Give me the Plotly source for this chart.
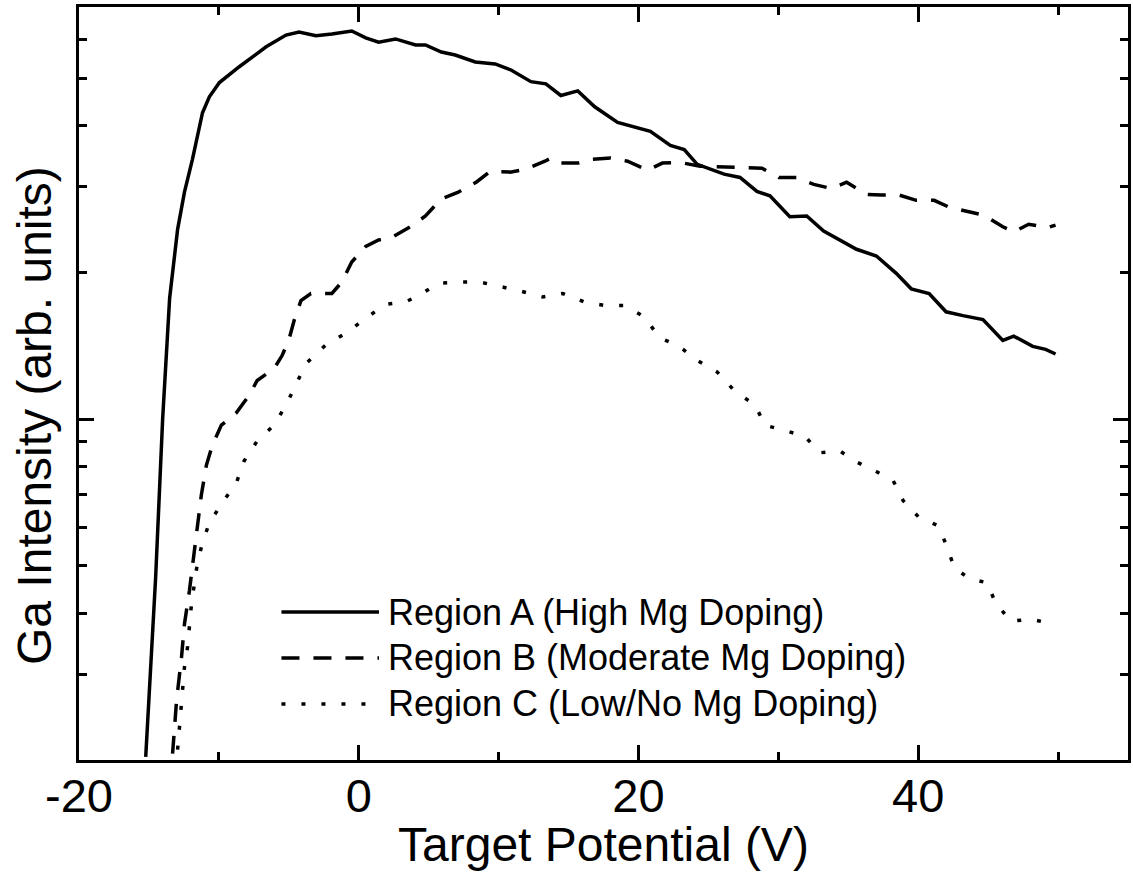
import math
import plotly.graph_objects as go

# ---------------- data ----------------
region_a_x = [-15.23, -14.52, -14.02, -13.52, -12.95, -12.46, -11.89, -11.17, -10.68, -9.96,
              -8.54, -6.62, -5.20, -4.27, -3.06, -1.92, -0.50, 0.50, 1.42, 2.63,
              4.06, 4.77, 5.91, 6.90, 8.33, 9.75, 10.89, 12.31, 13.38, 14.45,
              15.66, 16.87, 18.51, 20.85, 22.28, 23.27, 24.20, 26.12, 27.26, 28.47,
              29.40, 30.82, 32.03, 33.24, 35.59, 37.01, 38.43, 39.50, 40.78, 41.99,
              43.20, 44.63, 46.05, 46.83, 48.19, 49.11, 49.82]
region_a_y = [0.203, 0.474, 1.00, 1.77, 2.45, 2.92, 3.41, 4.25, 4.58, 4.90,
              5.28, 5.80, 6.13, 6.22, 6.11, 6.16, 6.25, 6.05, 5.93, 6.02,
              5.85, 5.85, 5.66, 5.58, 5.40, 5.35, 5.20, 4.92, 4.87, 4.61,
              4.71, 4.37, 4.06, 3.89, 3.64, 3.57, 3.33, 3.18, 3.13, 2.93,
              2.87, 2.60, 2.61, 2.43, 2.23, 2.16, 1.99, 1.85, 1.81, 1.66,
              1.63, 1.60, 1.45, 1.48, 1.41, 1.39, 1.36]

region_b_x = [-13.31, -13.02, -12.67, -12.46, -12.10, -11.60, -11.25, -10.89, -10.46, -9.82,
              -8.75, -7.83, -7.26, -6.05, -5.48, -4.98, -4.63, -4.13, -3.42, -1.92,
              -1.21, -0.50, 0.50, 1.42, 2.28, 3.70, 4.77, 5.91, 7.12, 8.40,
              9.40, 10.82, 11.89, 13.31, 13.74, 14.38, 15.66, 16.73, 18.01, 19.22,
              20.64, 21.71, 22.99, 24.41, 26.55, 27.54, 28.83, 30.04, 31.32, 32.53,
              33.81, 34.88, 36.30, 37.37, 38.65, 39.86, 41.14, 42.21, 43.63, 44.70,
              46.05, 46.83, 47.90, 49.25, 49.82]
region_b_y = [0.206, 0.266, 0.325, 0.380, 0.446, 0.590, 0.700, 0.805, 0.885, 0.972,
              1.03, 1.12, 1.20, 1.27, 1.35, 1.46, 1.59, 1.75, 1.81, 1.81,
              1.91, 2.10, 2.26, 2.33, 2.35, 2.48, 2.61, 2.83, 2.92, 3.06,
              3.22, 3.21, 3.25, 3.38, 3.43, 3.35, 3.35, 3.41, 3.43, 3.38,
              3.24, 3.35, 3.36, 3.30, 3.28, 3.27, 3.27, 3.13, 3.13, 3.03,
              2.97, 3.06, 2.89, 2.88, 2.88, 2.81, 2.81, 2.72, 2.66, 2.62,
              2.48, 2.42, 2.51, 2.47, 2.50]

region_c_x = [-12.95, -12.81, -12.67, -12.46, -12.24, -11.96, -11.53, -11.17, -10.68, -9.75,
              -8.75, -8.19, -7.26, -6.05, -5.12, -4.48, -3.77, -2.35, -0.93, 0.50,
              1.92, 3.35, 4.27, 5.69, 7.26, 8.68, 10.18, 11.60, 13.17, 14.59,
              16.09, 17.58, 19.00, 20.43, 21.49, 22.92, 24.20, 25.62, 26.90, 28.33,
              29.04, 30.46, 31.89, 32.95, 34.38, 35.59, 36.94, 38.22, 38.93, 40.07,
              41.42, 42.06, 42.56, 43.63, 44.91, 45.55, 46.62, 48.04, 49.61]
region_c_y = [0.210, 0.232, 0.257, 0.310, 0.341, 0.417, 0.508, 0.558, 0.613, 0.674,
              0.740, 0.821, 0.902, 0.972, 1.08, 1.18, 1.30, 1.42, 1.50, 1.61,
              1.72, 1.74, 1.79, 1.90, 1.91, 1.91, 1.87, 1.83, 1.78, 1.81,
              1.74, 1.71, 1.71, 1.62, 1.47, 1.41, 1.32, 1.25, 1.14, 1.07,
              0.972, 0.946, 0.923, 0.853, 0.861, 0.817, 0.783, 0.747, 0.680, 0.628,
              0.605, 0.548, 0.497, 0.471, 0.462, 0.419, 0.385, 0.389, 0.380]

series_names = ["Region A (High Mg Doping)",
                "Region B (Moderate Mg Doping)",
                "Region C (Low/No Mg Doping)"]

x_tick_vals = [-20, 0, 20, 40]
x_tick_text = ["-20", "0", "20", "40"]
x_minor_vals = [-10, 10, 30, 50]
y_major_vals = [1]
y_minor_vals = [0.2, 0.3, 0.4, 0.5, 0.6, 0.7, 0.8, 0.9, 2, 3, 4, 5, 6, 7]

x_title = "Target Potential (V)"
y_title = "Ga Intensity (arb. units)"

# ---------------- styles ----------------
FONT = "Liberation Sans, Arial, Helvetica, sans-serif"
dash_styles = ["solid", "18px,14px", "4px,16px"]
LW = 3
DLW = 3.5

fig = go.Figure()
for xs, ys, name, dash in zip([region_a_x, region_b_x, region_c_x],
                              [region_a_y, region_b_y, region_c_y],
                              series_names, dash_styles):
    fig.add_trace(go.Scatter(x=xs, y=ys, mode="lines", name=name,
                             line=dict(color="black", width=DLW, dash=dash),
                             showlegend=False))

# custom legend (long line samples like the reference)
leg_x0, leg_x1, leg_tx = 0.193, 0.286, 0.293
leg_rows = [0.1965, 0.1355, 0.0744]
for name, dash, yy in zip(series_names, dash_styles, leg_rows):
    fig.add_shape(type="line", xref="paper", yref="paper",
                  x0=leg_x0, x1=leg_x1, y0=yy, y1=yy,
                  line=dict(color="black", width=DLW, dash=dash))
    fig.add_annotation(xref="paper", yref="paper", x=leg_tx, y=yy,
                       text=name, showarrow=False, xanchor="left", yanchor="middle",
                       font=dict(family=FONT, size=36, color="black"))

# axis titles as annotations
fig.add_annotation(xref="paper", yref="paper", x=0.5, y=-0.112,
                   text=x_title, showarrow=False, xanchor="center", yanchor="middle",
                   font=dict(family=FONT, size=48, color="black"))
fig.add_annotation(xref="paper", yref="paper", x=-0.043, y=0.458,
                   text=y_title, showarrow=False, textangle=-90,
                   xanchor="center", yanchor="middle",
                   font=dict(family=FONT, size=48, color="black"))

fig.update_xaxes(range=[-20, 55], showgrid=False, zeroline=False,
                 showline=True, linecolor="black", linewidth=LW, mirror="ticks",
                 ticks="inside", ticklen=15, tickwidth=LW, tickcolor="black",
                 tickmode="array", tickvals=x_tick_vals, ticktext=x_tick_text,
                 ticklabelstandoff=-7,
                 tickfont=dict(family=FONT, size=47, color="black"),
                 minor=dict(tickmode="array", tickvals=x_minor_vals, ticks="inside",
                            ticklen=8, tickwidth=LW, tickcolor="black", showgrid=False))
fig.update_yaxes(type="log", range=[math.log10(0.2), math.log10(7)],
                 showgrid=False, zeroline=False,
                 showline=True, linecolor="black", linewidth=LW, mirror="ticks",
                 ticks="inside", ticklen=15, tickwidth=LW, tickcolor="black",
                 tickmode="array", tickvals=y_major_vals, showticklabels=False,
                 minor=dict(tickmode="array", tickvals=y_minor_vals, ticks="inside",
                            ticklen=8, tickwidth=LW, tickcolor="black", showgrid=False))

fig.update_layout(width=1133, height=872,
                  margin=dict(l=79, r=2, t=7, b=112, pad=0),
                  paper_bgcolor="white", plot_bgcolor="white",
                  font=dict(family=FONT, color="black"),
                  showlegend=False)

fig.write_html("out.html", include_plotlyjs=True, full_html=True,
               config={"displayModeBar": False})
